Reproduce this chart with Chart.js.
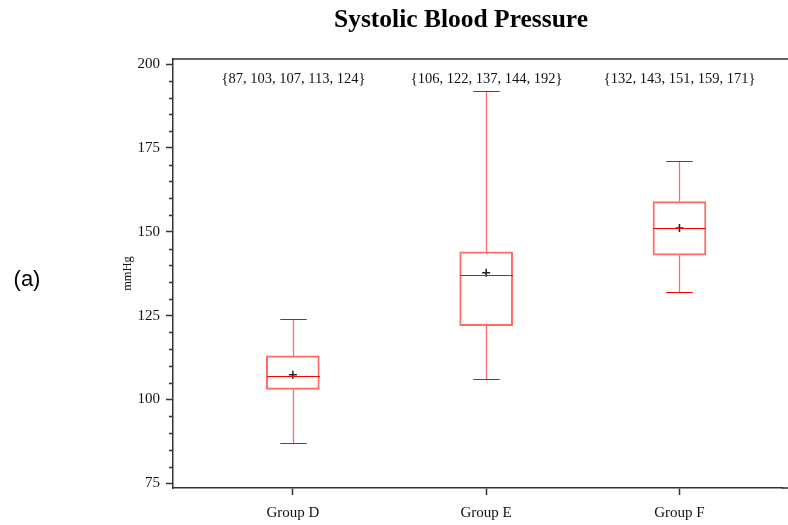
<!DOCTYPE html>
<html>
<head>
<meta charset="utf-8">
<script src="https://cdn.jsdelivr.net/npm/chart.js@4.4.1/dist/chart.umd.min.js"></script>
<style>
  html, body { margin: 0; padding: 0; background: #fff; overflow: hidden; }
  #wrap { position: relative; width: 788px; height: 525px; }
</style>
</head>
<body>
<div id="wrap"><canvas id="chartCanvas" width="788" height="525"></canvas></div>
<script>
// ------- data
const groups   = ["Group D", "Group E", "Group F"];
const groupPos = [1, 2, 3];
const mins     = [87, 106, 132];
const q1s      = [103, 122, 143];
const medians  = [107, 137, 151];
const q3s      = [113, 144, 159];
const maxs     = [124, 192, 171];
const means    = [107.4, 137.8, 151.1];
const yTicks   = [75, 100, 125, 150, 175, 200];
const yMinor   = [80, 85, 90, 95, 105, 110, 115, 120, 130, 135, 140, 145, 155, 160, 165, 170, 180, 185, 190, 195];

const SERIF = "'Liberation Serif', 'DejaVu Serif', serif";
const RED = '#ff0000';
const LIGHT_RED = '#ff6b6b';

// whiskers, medians, caps, labels on top of each box
const boxExtras = {
  id: 'boxExtras',
  afterDatasetsDraw(chart) {
    const { ctx, scales: { x, y }, chartArea } = chart;
    const meta = chart.getDatasetMeta(0);
    ctx.save();
    groupPos.forEach((g, i) => {
      const cx = Math.round(x.getPixelForValue(g)) + 0.5;
      const bw = meta.data[i] ? meta.data[i].width : 53;
      const cap = bw / 2;
      const yq1 = y.getPixelForValue(q1s[i]), yq3 = y.getPixelForValue(q3s[i]);
      const ylo = y.getPixelForValue(mins[i]), yhi = y.getPixelForValue(maxs[i]);
      const ymed = y.getPixelForValue(medians[i]);
      // stems
      ctx.strokeStyle = LIGHT_RED; ctx.lineWidth = 1.3;
      ctx.beginPath();
      ctx.moveTo(cx, yq3); ctx.lineTo(cx, yhi);
      ctx.moveTo(cx, yq1); ctx.lineTo(cx, ylo);
      ctx.stroke();
      // caps + median
      ctx.strokeStyle = RED; ctx.lineWidth = 1;
      ctx.beginPath();
      ctx.moveTo(cx - cap / 2, Math.round(yhi) + 0.5); ctx.lineTo(cx + cap / 2, Math.round(yhi) + 0.5);
      ctx.moveTo(cx - cap / 2, Math.round(ylo) + 0.5); ctx.lineTo(cx + cap / 2, Math.round(ylo) + 0.5);
      ctx.moveTo(cx - bw / 2, Math.round(ymed) + 0.5); ctx.lineTo(cx + bw / 2, Math.round(ymed) + 0.5);
      ctx.stroke();
      // five-number summary text
      ctx.fillStyle = '#111';
      ctx.font = `14.5px ${SERIF}`;
      ctx.textAlign = 'center'; ctx.textBaseline = 'middle';
      const txt = `{${mins[i]}, ${q1s[i]}, ${medians[i]}, ${q3s[i]}, ${maxs[i]}}`;
      ctx.fillText(txt, cx, chartArea.top + 20);
    });
    ctx.restore();
  }
};

// minor y ticks, top frame line (and axis lines run to the canvas edge), title and panel tag
const frameAndText = {
  id: 'frameAndText',
  afterDraw(chart) {
    const { ctx, scales: { y }, chartArea } = chart;
    ctx.save();
    ctx.strokeStyle = '#333'; ctx.lineWidth = 1.5;
    ctx.beginPath();
    yMinor.forEach(v => {
      const py = Math.round(y.getPixelForValue(v)) + 0.5;
      ctx.moveTo(chartArea.left - 4, py); ctx.lineTo(chartArea.left, py);
    });
    ctx.moveTo(chartArea.left, chartArea.top); ctx.lineTo(chart.width, chartArea.top);
    ctx.moveTo(chartArea.right - 1, chartArea.bottom); ctx.lineTo(chart.width, chartArea.bottom);
    ctx.stroke();

    ctx.fillStyle = '#000';
    ctx.textAlign = 'center'; ctx.textBaseline = 'middle';
    ctx.font = `bold 25.5px ${SERIF}`;
    ctx.fillText('Systolic Blood Pressure', 461, 20);
    ctx.font = "22px 'Liberation Sans', Arial, sans-serif";
    ctx.fillText('(a)', 27, 280);
    ctx.restore();
  }
};

const chartCanvas = document.getElementById('chartCanvas');
new Chart(chartCanvas, {
  type: 'bar',
  data: {
    datasets: [
      {
        type: 'bar',
        label: 'IQR',
        data: groupPos.map((g, i) => ({ x: g, y: [q1s[i], q3s[i]] })),
        backgroundColor: 'rgba(0,0,0,0)',
        borderColor: LIGHT_RED,
        borderWidth: 1.3,
        borderSkipped: false,
        barThickness: 53
      },
      {
        type: 'scatter',
        label: 'Mean',
        data: groupPos.map((g, i) => ({ x: g, y: means[i] })),
        pointStyle: 'cross',
        pointRadius: 4,
        borderColor: '#222',
        borderWidth: 1.5
      }
    ]
  },
  options: {
    responsive: false,
    animation: false,
    layout: { padding: { left: 100, top: 59, right: 0, bottom: 0 } },
    plugins: { legend: { display: false }, tooltip: { enabled: false }, title: { display: false } },
    scales: {
      x: {
        type: 'linear',
        offset: false,
        min: 0.38,
        max: 3.533,
        afterBuildTicks: s => { s.ticks = groupPos.map(v => ({ value: v })); },
        afterFit: s => { s.height = 37; s.paddingLeft = 0; s.paddingRight = 0; },
        grid: { offset: false, drawOnChartArea: false, tickLength: 7, tickColor: '#333', tickWidth: 1.5 },
        border: { color: '#333', width: 1.5 },
        ticks: {
          color: '#111', padding: 9,
          font: { family: SERIF, size: 15 },
          callback: v => groups[groupPos.indexOf(v)] || ''
        }
      },
      y: {
        min: 73.6,
        max: 201.5,
        afterBuildTicks: s => { s.ticks = yTicks.map(v => ({ value: v })); },
        afterFit: s => { s.width = 73; },
        grid: { drawOnChartArea: false, tickLength: 7, tickColor: '#333', tickWidth: 1.5 },
        border: { color: '#333', width: 1.5 },
        ticks: { color: '#111', padding: 6, font: { family: SERIF, size: 15 } },
        title: {
          display: true, text: 'mmHg', color: '#111',
          font: { family: SERIF, size: 12.5 }, padding: { top: 20, bottom: 0 }
        }
      }
    }
  },
  plugins: [boxExtras, frameAndText]
});
</script>
</body>
</html>
